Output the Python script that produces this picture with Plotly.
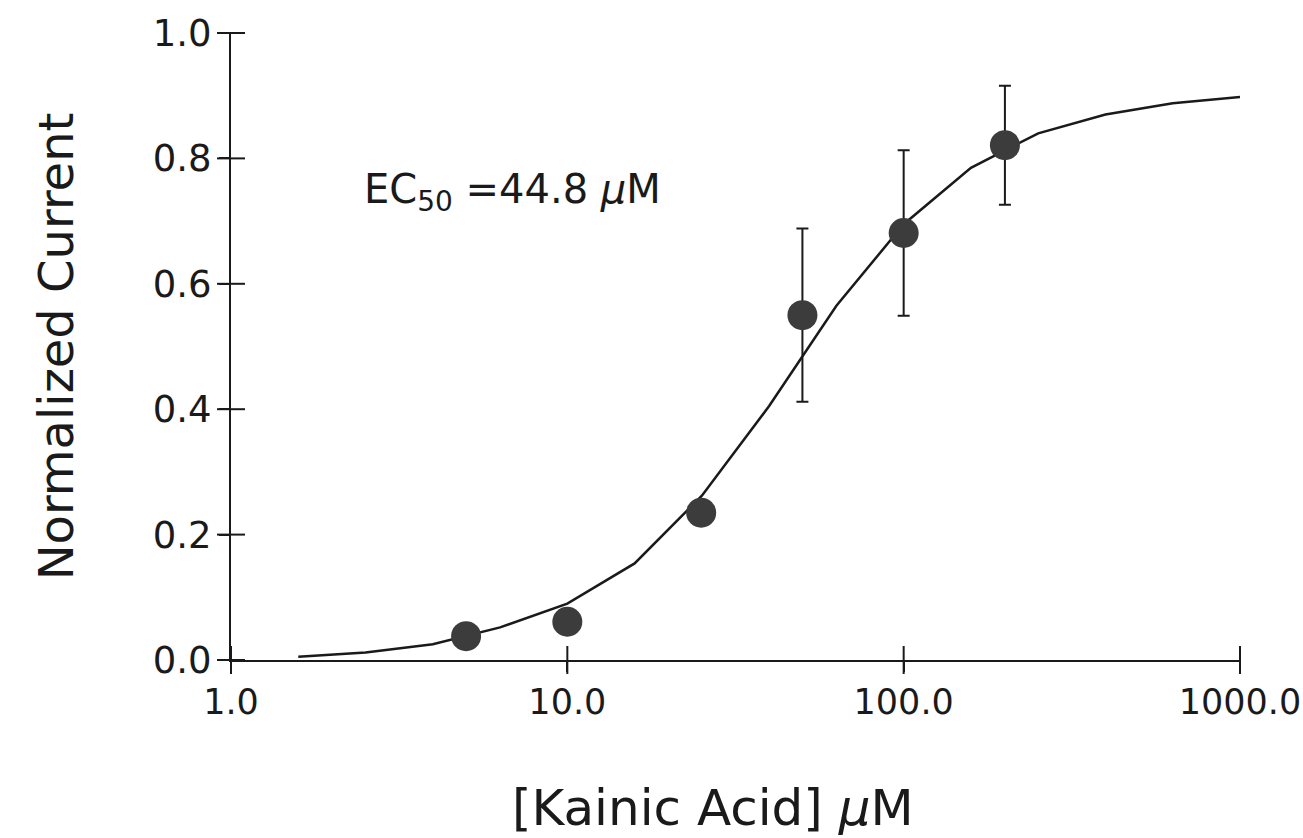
import plotly.graph_objects as go

# Data
conc = [5, 10, 25, 50, 100, 200]
current = [0.038, 0.061, 0.235, 0.550, 0.681, 0.821]
err = [0.0, 0.0, 0.0, 0.138, 0.132, 0.095]

fit_x = [1.585, 2.512, 3.981, 6.310, 10.0, 15.85, 25.12, 39.81, 63.10,
         100.0, 158.5, 251.2, 398.1, 631.0, 1000.0]
fit_y = [0.005, 0.012, 0.025, 0.052, 0.090, 0.154, 0.262, 0.405, 0.565,
         0.695, 0.785, 0.840, 0.870, 0.888, 0.898]

x_ticks = [1, 10, 100, 1000]
x_ticktext = ["1.0", "10.0", "100.0", "1000.0"]
y_ticks = [0.0, 0.2, 0.4, 0.6, 0.8, 1.0]
y_ticktext = ["0.0", "0.2", "0.4", "0.6", "0.8", "1.0"]

FONT = "DejaVu Sans"
INK = "#1a1a1a"

fig = go.Figure()
fig.add_trace(go.Scatter(x=fit_x, y=fit_y, mode="lines",
                         line=dict(color=INK, width=2.5),
                         showlegend=False, cliponaxis=False))
fig.add_trace(go.Scatter(x=conc, y=current, mode="markers",
                         marker=dict(size=30, color="#3c3c3c",
                                     line=dict(width=0)),
                         error_y=dict(type="data", array=err, visible=True,
                                      color=INK, thickness=2, width=6),
                         showlegend=False, cliponaxis=False))
# tick marks that cross the axis lines (both sides), placed at the tick values
fig.add_trace(go.Scatter(x=x_ticks, y=[y_ticks[0]] * len(x_ticks),
                         mode="markers",
                         marker=dict(symbol="line-ns-open", size=20,
                                     color=INK,
                                     line=dict(color=INK, width=2)),
                         showlegend=False, hoverinfo="skip",
                         cliponaxis=False))
fig.add_trace(go.Scatter(x=[x_ticks[0]] * len(y_ticks), y=y_ticks,
                         mode="markers",
                         marker=dict(symbol="line-ew-open", size=20,
                                     color=INK,
                                     line=dict(color=INK, width=2)),
                         showlegend=False, hoverinfo="skip",
                         cliponaxis=False))

axis_common = dict(showgrid=False, zeroline=False, showline=True,
                   linecolor=INK, linewidth=2, tickcolor=INK,
                   tickwidth=2, ticklen=10, automargin=False)

fig.update_layout(
    width=1303, height=838,
    margin=dict(l=231, r=63, t=33, b=178),
    paper_bgcolor="white", plot_bgcolor="white",
    font=dict(family=FONT, color=INK),
    xaxis=dict(type="log", range=[0, 3], tickvals=x_ticks,
               ticktext=x_ticktext, ticks="outside",
               tickfont=dict(size=35, family=FONT),
               **axis_common),
    yaxis=dict(range=[0, 1.0], tickvals=y_ticks, ticktext=y_ticktext,
               ticks="outside", tickfont=dict(size=37, family=FONT),
               title=dict(text="Normalized Current",
                          font=dict(size=48, family=FONT), standoff=64),
               **axis_common),
    annotations=[
        dict(x=0.39, y=0.747, xref="x", yref="y",
             text="EC<sub>50</sub> =44.8 <i>μ</i>M",
             showarrow=False, xanchor="left", yanchor="middle",
             font=dict(size=40, family=FONT, color=INK)),
        dict(x=0.478, y=-0.236, xref="paper", yref="paper",
             text="[Kainic Acid] <i>μ</i>M",
             showarrow=False, xanchor="center", yanchor="middle",
             font=dict(size=50, family=FONT, color=INK)),
    ],
)

fig.write_html("out.html")
